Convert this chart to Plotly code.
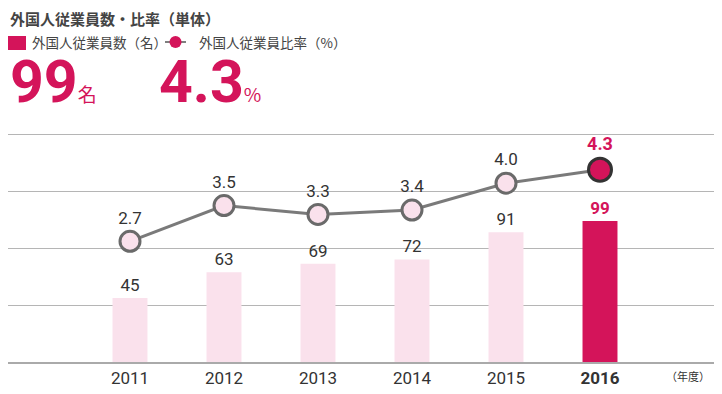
import plotly.graph_objects as go

years = ["2011", "2012", "2013", "2014", "2015", "2016"]
employees = [45, 63, 69, 72, 91, 99]
ratio = [2.7, 3.5, 3.3, 3.4, 4.0, 4.3]
bar_ticks = [40, 80, 120, 160]

PINK = "#fae1ec"
MAG = "#d4145a"
NUM_FONT = "Liberation Sans Narrow, Roboto, sans-serif"
JP_FONT = "Noto Sans CJK JP, sans-serif"

# the page body has an 8px margin; compensate so the view matches
OFF = 8
W, H = 722 - OFF, 394 - OFF
TOP, BOT = 120 - OFF, 362 - OFF

def py(y):
    return (BOT - (y - OFF)) / (BOT - TOP)

def px(x):
    return (x - OFF) / W

xs = list(range(len(years)))
n = len(years)
last = n - 1

# x axis: 2011 at ref px 130, 94 px per category
x0 = -(130 - OFF) / 94
x1 = x0 + W / 94

bar_colors = [PINK] * last + [MAG]
bar_text = [str(v) for v in employees[:-1]] + [f"<b>{employees[-1]}</b>"]
line_text = [f"{v:.1f}" for v in ratio[:-1]] + [f"<b>{ratio[-1]:.1f}</b>"]

fig = go.Figure()
fig.add_trace(go.Bar(
    x=xs, y=employees, width=0.372,
    marker=dict(color=bar_colors, line=dict(width=0)),
    text=bar_text, textposition="outside", cliponaxis=False,
    textfont=dict(family=NUM_FONT, size=17,
                  color=["#333333"] * last + [MAG]),
    yaxis="y",
))
fig.add_trace(go.Scatter(
    x=xs, y=ratio, mode="lines+markers+text",
    line=dict(color="#7a7a7a", width=3),
    marker=dict(size=[20] * last + [23], opacity=1,
                color=[PINK] * last + [MAG],
                line=dict(color=["#6a6a6a"] * last + ["#333333"], width=3)),
    text=line_text, textposition="top center", cliponaxis=False,
    textfont=dict(family=NUM_FONT, size=[17] * last + [18],
                  color=["#333333"] * last + [MAG]),
    yaxis="y2",
))

fig.update_layout(
    width=W, height=H,
    margin=dict(l=0, r=0, t=TOP, b=H - BOT, pad=0),
    paper_bgcolor="white", plot_bgcolor="white",
    showlegend=False,
    xaxis=dict(
        range=[x0, x1], tickmode="array", tickvals=xs,
        ticktext=years[:-1] + [f"<b>{years[-1]}</b>"],
        tickfont=dict(family=NUM_FONT, size=17, color="#333333"),
        showgrid=False, zeroline=False, showline=True,
        linecolor="#aaaaaa", linewidth=2, ticks="", fixedrange=True,
    ),
    yaxis=dict(
        range=[0, (BOT - TOP) / 1.425], tickmode="array", tickvals=bar_ticks,
        showticklabels=False, showgrid=True, gridcolor="#b5b5b5",
        gridwidth=1, zeroline=False, fixedrange=True,
    ),
    yaxis2=dict(
        range=[0, (BOT - TOP) / 44.7], overlaying="y", side="right",
        showticklabels=False, showgrid=False, zeroline=False,
        fixedrange=True,
    ),
)

unit_span = ('<span style="font-size:19px;font-family:Noto Sans CJK JP;'
             'font-weight:normal">{}</span>')

annotations = [
    dict(x=px(8), y=py(18), text="<b>外国人従業員数・比率（単体）</b>",
         font=dict(family=JP_FONT, size=15, color="#444444"),
         xanchor="left", yanchor="middle"),
    dict(x=px(30), y=py(42), text="外国人従業員数（名）",
         font=dict(family=JP_FONT, size=13.5, color="#444444"),
         xanchor="left", yanchor="middle"),
    dict(x=px(197), y=py(42), text="外国人従業員比率（%）",
         font=dict(family=JP_FONT, size=13.5, color="#444444"),
         xanchor="left", yanchor="middle"),
    dict(x=px(8), y=py(104), text=f"<b>{employees[-1]}</b>" + unit_span.format("名"),
         font=dict(family="Roboto, sans-serif", size=59, color=MAG),
         xanchor="left", yanchor="bottom", yshift=-14),
    dict(x=px(157), y=py(104), text=f"<b>{ratio[-1]}</b>" + unit_span.format("%"),
         font=dict(family="Roboto, sans-serif", size=59, color=MAG),
         xanchor="left", yanchor="bottom", yshift=-14),
    dict(x=5.94, xref="x", y=py(376), text="（年度）",
         font=dict(family=JP_FONT, size=11, color="#333333"),
         xanchor="center", yanchor="middle"),
]
for a in annotations:
    a.setdefault("xref", "paper")
    a["yref"] = "paper"
    a["showarrow"] = False
fig.update_layout(annotations=annotations)

shapes = [
    dict(type="rect", xref="paper", yref="paper",
         x0=px(8), x1=px(26), y0=py(50), y1=py(36),
         fillcolor=MAG, line=dict(width=0)),
    dict(type="line", xref="paper", yref="paper",
         x0=px(165), x1=px(186), y0=py(42), y1=py(42),
         line=dict(color="#555555", width=1.5)),
    dict(type="circle", xref="paper", yref="paper",
         x0=px(169.5), x1=px(181.5), y0=py(48), y1=py(36),
         fillcolor=MAG, line=dict(width=0)),
]
fig.update_layout(shapes=shapes)

fig.write_html("out.html")
